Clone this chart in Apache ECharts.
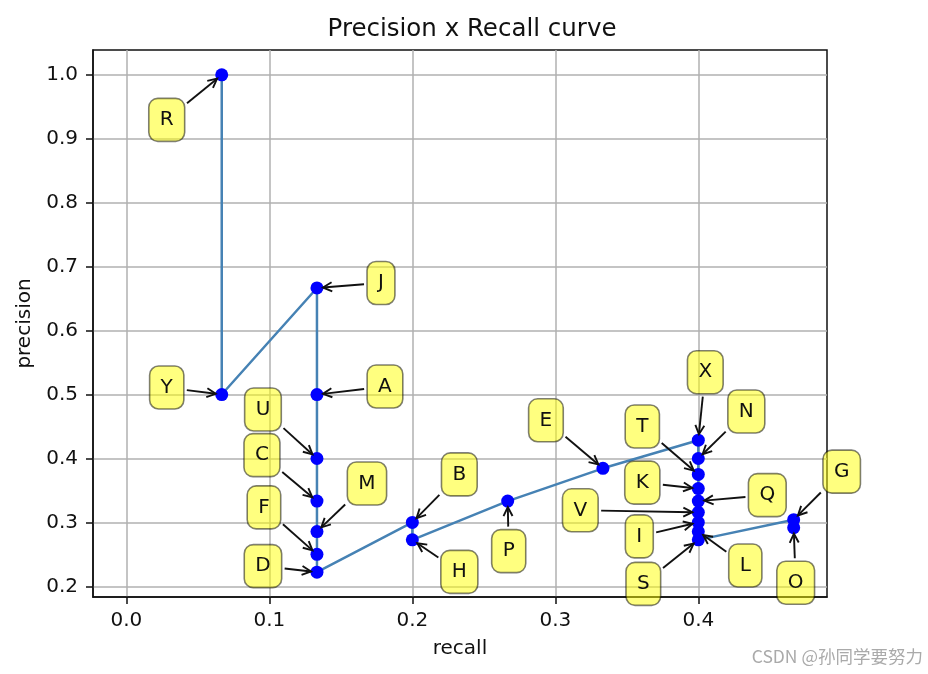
<!DOCTYPE html>
<html>
<head>
<meta charset="utf-8">
<script src="https://cdn.jsdelivr.net/npm/echarts@6/dist/echarts.min.js"></script>
<style>
html,body{margin:0;padding:0;background:#fff;}
#chart{width:928px;height:674px;}
</style>
</head>
<body>
<div id="chart"></div>
<script>
// ---- data ----
const pointLabels = ['R','Y','J','A','U','C','M','F','D','B','H','P','E','X','N','T','K','Q','V','I','L','S','G','O'];
const recall = [0.0667,0.0667,0.1333,0.1333,0.1333,0.1333,0.1333,0.1333,0.1333,0.2,0.2,0.2667,0.3333,0.4,0.4,0.4,0.4,0.4,0.4,0.4,0.4,0.4,0.4667,0.4667];
const precision = [1.0,0.5,0.6667,0.5,0.4,0.3333,0.2857,0.25,0.2222,0.3,0.2727,0.3333,0.3846,0.4286,0.4,0.375,0.3529,0.3333,0.3158,0.3,0.2857,0.2727,0.3043,0.2917];
const xTicks = [0.0,0.1,0.2,0.3,0.4];
const yTicks = [0.2,0.3,0.4,0.5,0.6,0.7,0.8,0.9,1.0];
// annotation text offsets from each point, in pixels (like matplotlib xytext offset points)
const labelOffsets = [[-55,45],[-55,-7],[64,-5],[68,-8],[-54,-49],[-55,-46],[50,-48],[-53,-47],[-54,-6],[47,-48],[47,32],[1,50],[-57,-48],[7,-68],[48,-47],[-56,-48],[-56,-6],[69,-6],[-118,-2],[-59,14],[47,34],[-55,44],[48,-48],[2,55]];

const FONT = 'DejaVu Sans';
const chart = echarts.init(document.getElementById('chart'), null, {renderer:'canvas'});

const option = {
  animation: false,
  backgroundColor: '#fff',
  title: {
    text: 'Precision x Recall curve',
    left: 467, top: 12, textAlign: 'center',
    textStyle: {fontFamily: FONT, fontSize: 24.5, fontWeight: 'normal', color: '#111'}
  },
  grid: {left: 93, right: 101, top: 50, bottom: 77, show: true, borderColor: '#111', borderWidth: 1.5, backgroundColor: 'transparent'},
  xAxis: {
    type: 'value', min: -0.02333, max: 0.49,
    name: 'recall', nameLocation: 'middle', nameGap: 42,
    nameTextStyle: {fontFamily: FONT, fontSize: 20, color: '#111'},
    axisLine: {show: true, onZero: false, lineStyle: {color: '#111', width: 1.5}},
    axisTick: {show: true, length: 7, customValues: xTicks, lineStyle: {color: '#111', width: 1.5}},
    axisLabel: {customValues: xTicks, margin: 14, fontFamily: FONT, fontSize: 20, color: '#111', formatter: v => v.toFixed(1)},
    splitLine: {show: true, lineStyle: {color: '#b0b0b0', width: 1.5}}
  },
  yAxis: {
    type: 'value', min: 0.18333, max: 1.03889,
    name: 'precision', nameLocation: 'middle', nameGap: 55,
    nameTextStyle: {fontFamily: FONT, fontSize: 20, color: '#111'},
    axisLine: {show: true, onZero: false, lineStyle: {color: '#111', width: 1.5}},
    axisTick: {show: true, length: 7, customValues: yTicks, lineStyle: {color: '#111', width: 1.5}},
    axisLabel: {customValues: yTicks, margin: 15, fontFamily: FONT, fontSize: 20, color: '#111', formatter: v => v.toFixed(1)},
    splitLine: {show: true, lineStyle: {color: '#b0b0b0', width: 1.5}}
  },
  series: [{
    type: 'line',
    data: recall.map((r, i) => [r, precision[i]]),
    symbol: 'circle', symbolSize: 13, showSymbol: true,
    lineStyle: {color: '#4682b4', width: 2.5},
    itemStyle: {color: '#0000ff', borderWidth: 0},
    z: 3
  }],
  graphic: []
};
chart.setOption(option);

// ---- annotations (positioned from the library's own scale) ----
const ctx = document.createElement('canvas').getContext('2d');
ctx.font = '20px "' + FONT + '"';
const pad = 10, boxH = 43;
const els = [];
pointLabels.forEach((lab, i) => {
  const p = chart.convertToPixel({gridIndex: 0}, [recall[i], precision[i]]);
  const c = [p[0] + labelOffsets[i][0], p[1] + labelOffsets[i][1]];
  const tw = ctx.measureText(lab).width;
  const hw = (tw + 2 * pad + 2) / 2, hh = boxH / 2;
  // arrow
  const dx = p[0] - c[0], dy = p[1] - c[1];
  const len = Math.hypot(dx, dy);
  const ux = dx / len, uy = dy / len;
  const t = Math.min(Math.abs(dx) > 1e-6 ? hw / Math.abs(dx) : Infinity, Math.abs(dy) > 1e-6 ? hh / Math.abs(dy) : Infinity);
  const sx = c[0] + dx * t + ux * 3, sy = c[1] + dy * t + uy * 3;
  const ex = p[0] - ux * 6, ey = p[1] - uy * 6;
  const L = 9, W = 4.5;
  const px = -uy, py = ux;
  els.push({type: 'line', z: 20, silent: true, shape: {x1: sx, y1: sy, x2: ex, y2: ey}, style: {stroke: '#111', lineWidth: 1.9}});
  els.push({type: 'polyline', z: 20, silent: true, shape: {points: [[ex - ux * L + px * W, ey - uy * L + py * W], [ex, ey], [ex - ux * L - px * W, ey - uy * L - py * W]]}, style: {stroke: '#111', lineWidth: 1.9, fill: null}});
  // box
  els.push({type: 'rect', z: 21, silent: true, shape: {x: c[0] - hw, y: c[1] - hh, width: 2 * hw, height: 2 * hh, r: 9}, style: {fill: 'rgba(255,255,0,0.5)', stroke: 'rgba(0,0,0,0.5)', lineWidth: 1.6}});
  els.push({type: 'text', z: 22, silent: true, x: c[0], y: c[1], style: {text: lab, fontFamily: FONT, fontSize: 20, fill: '#111', align: 'center', verticalAlign: 'middle'}});
});
// watermark
els.push({type: 'text', z: 30, silent: true, right: 5, top: 648, style: {text: 'CSDN @孙同学要努力', fontFamily: '"Noto Sans CJK SC"', fontSize: 17.5, fill: '#aaaaaa'}});
chart.setOption({graphic: els});
</script>
</body>
</html>
